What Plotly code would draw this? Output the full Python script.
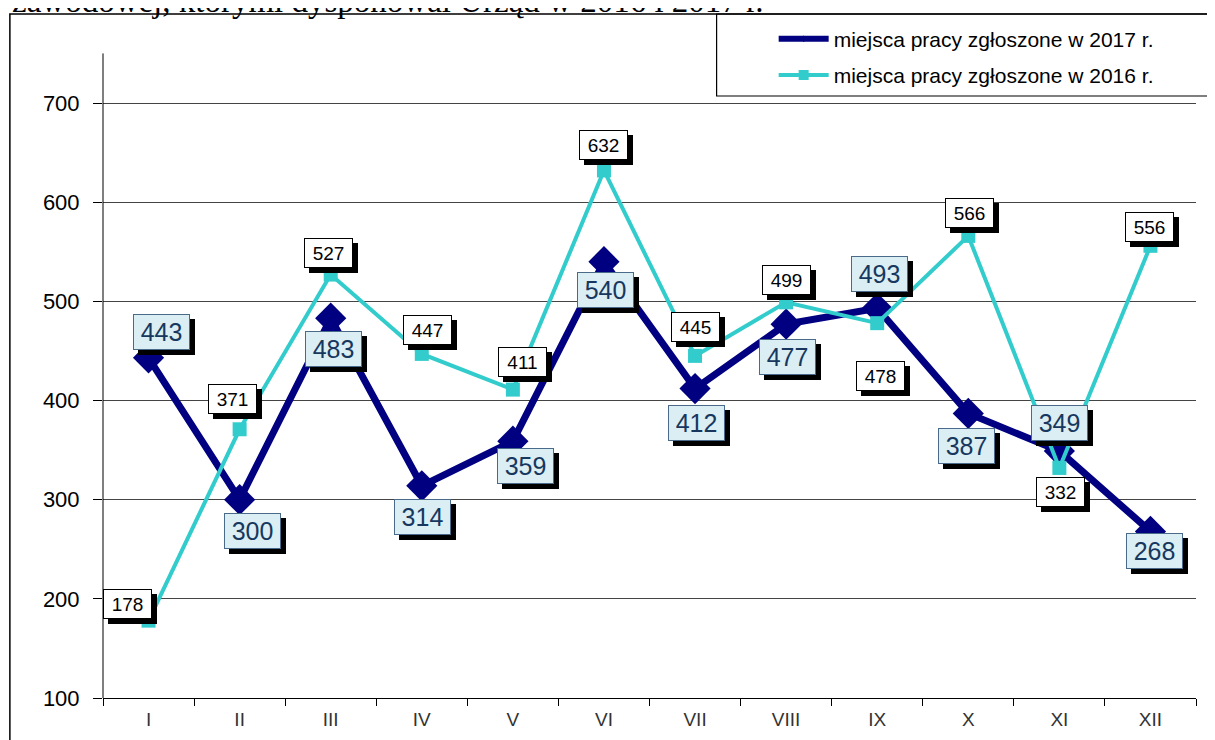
import plotly.graph_objects as go

months = ["I", "II", "III", "IV", "V", "VI", "VII", "VIII", "IX", "X", "XI", "XII"]
oferty_2017 = [443, 300, 483, 314, 359, 540, 412, 477, 493, 387, 349, 268]
oferty_2016 = [178, 371, 527, 447, 411, 632, 445, 499, 478, 566, 332, 556]

# label offsets (px) so boxes sit like in the original
shift_2017 = [(13, 26), (13, -31), (3, -31), (1, -31), (13, -25), (2, -28),
              (1, -34), (1, -33), (2, 34), (-2, -33), (0, 28), (4, -20)]
shift_2016 = [(-21, 17), (-7, 30), (-2, 22), (6, 24), (10, 28), (0, 25),
              (0, 29), (0, 22), (3, -53), (1, 23), (1, -24), (-1, 19)]

NAVY = "#000080"
TURQ = "#33CCCC"

fig = go.Figure()
fig.add_trace(go.Scatter(
    x=months, y=oferty_2017, mode="lines+markers", showlegend=False,
    line=dict(color=NAVY, width=7),
    marker=dict(symbol="diamond", size=24, color=NAVY),
))
fig.add_trace(go.Scatter(
    x=months, y=oferty_2016, mode="lines+markers", showlegend=False,
    line=dict(color=TURQ, width=4),
    marker=dict(symbol="square", size=14, color=TURQ),
))
# legend-only entries (small markers like the original legend)
fig.add_trace(go.Scatter(x=[None], y=[None], mode="lines+markers", legendrank=1, legendgroup="a",
                         name="miejsca pracy zgłoszone w 2017 r.",
                         line=dict(color=NAVY, width=6), marker=dict(symbol="diamond", size=5, color=NAVY)))
fig.add_trace(go.Scatter(x=[None], y=[None], mode="lines+markers", legendrank=2, legendgroup="b",
                         name="miejsca pracy zgłoszone w 2016 r.",
                         line=dict(color=TURQ, width=4), marker=dict(symbol="square", size=10, color=TURQ)))

def add_label(x, y, txt, dx, dy, size, fg, bg, border, w, h):
    # black shadow box first, then the label itself
    fig.add_annotation(x=x, y=y, text=txt, showarrow=False, xshift=dx + 5, yshift=dy - 5,
                       width=w, height=h, font=dict(family="Arial", size=size, color="black"),
                       bgcolor="black", bordercolor="black", borderwidth=1, borderpad=2)
    fig.add_annotation(x=x, y=y, text=txt, showarrow=False, xshift=dx, yshift=dy,
                       width=w, height=h, font=dict(family="Arial", size=size, color=fg),
                       bgcolor=bg, bordercolor=border, borderwidth=1, borderpad=2)

for m, v, (dx, dy) in zip(months, oferty_2016, shift_2016):
    add_label(m, v, str(v), dx, dy, 19, "black", "white", "black", 43, 24)
for m, v, (dx, dy) in zip(months, oferty_2017, shift_2017):
    add_label(m, v, str(v), dx, dy, 25, "#17375E", "#DAEEF3", "#4A6A8A", 51, 30)

# cut-off caption line above the chart
fig.add_annotation(xref="paper", yref="paper", x=-0.0853, y=1.0128, xanchor="left", yanchor="middle",
                   text="zawodowej, którymi dysponował Urząd w 2016 i 2017 r.", showarrow=False,
                   font=dict(family="Liberation Serif", size=33, color="black"))

# outer chart border, legend frame and the y axis line (which stops at 750)
fig.add_shape(type="rect", xref="paper", yref="paper", x0=-0.0852, x1=1.03, y0=-0.2, y1=0.9942,
              line=dict(color="black", width=1.5), fillcolor="rgba(0,0,0,0)")
fig.add_shape(type="rect", xref="paper", yref="paper", x0=0.5614, x1=1.03, y0=0.875, y1=0.9942,
              line=dict(color="black", width=1.2), fillcolor="white", layer="below")
fig.add_shape(type="line", xref="paper", yref="paper", x0=0, x1=0, y0=0, y1=0.9369,
              line=dict(color="black", width=1))

fig.update_layout(
    width=1215, height=740,
    margin=dict(l=95, r=27, t=2, b=50),
    paper_bgcolor="white", plot_bgcolor="white",
    font=dict(family="Arial", color="black"),
    showlegend=True,
    legend=dict(x=0.6136, y=0.9874, xanchor="left", yanchor="top",
                tracegroupgap=6, bgcolor="rgba(0,0,0,0)", font=dict(family="Arial", size=21),
                itemwidth=50),
)
fig.update_xaxes(type="category", showgrid=False, showline=True, linecolor="black", linewidth=1,
                 ticks="outside", tickson="boundaries", ticklen=7, tickcolor="black", automargin=False,
                 ticklabelstandoff=4, tickfont=dict(size=19, color="#333333"), range=[-0.5, 11.5])
fig.update_yaxes(range=[100, 793.8], tickvals=[100, 200, 300, 400, 500, 600, 700],
                 showgrid=True, gridcolor="#444444", gridwidth=1, showline=False, automargin=False,
                 ticks="outside", ticklen=9, tickcolor="black", ticklabelstandoff=9,
                 tickfont=dict(size=22, color="black"), zeroline=False)

fig.write_html("out.html")
